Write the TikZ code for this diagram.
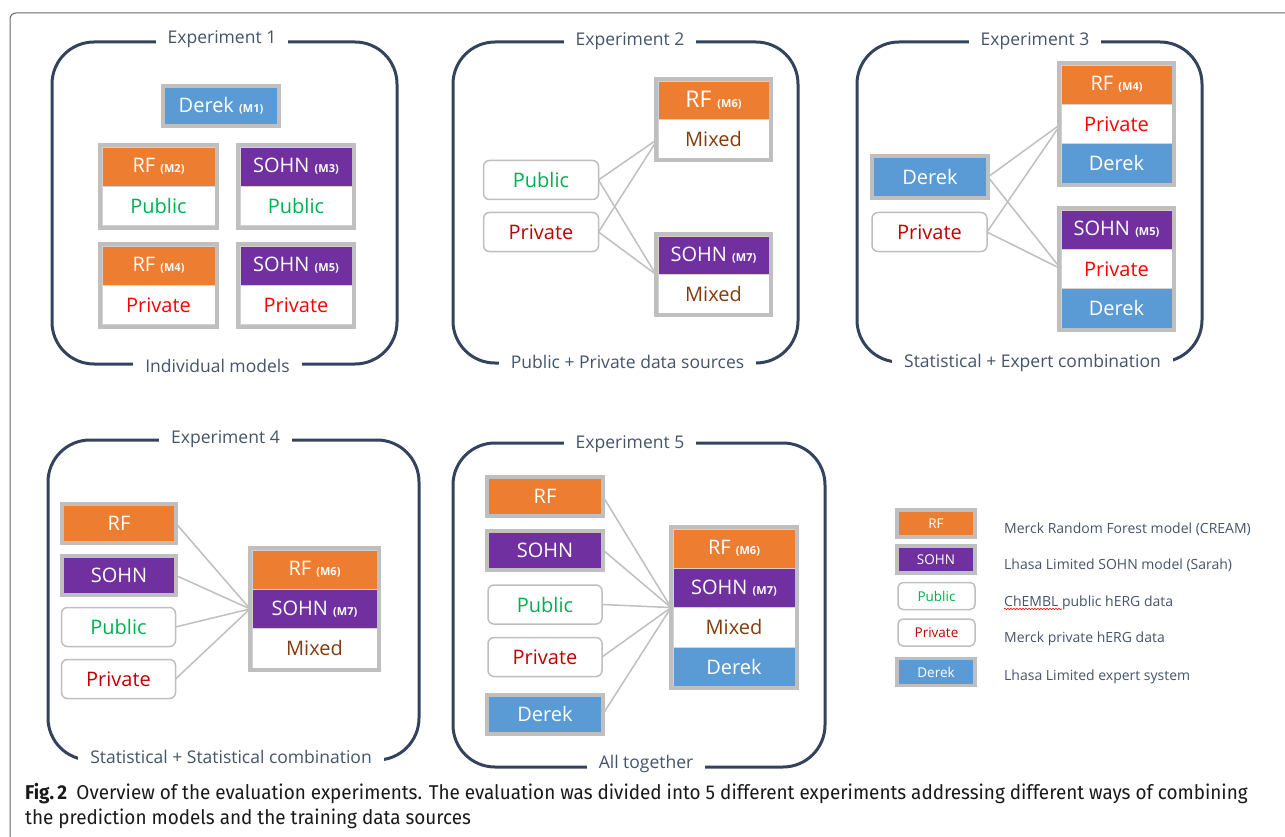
\documentclass[tikz,border=0pt]{standalone}
\usepackage{fontspec}
\setmainfont{Open Sans}
\newfontfamily\capfont{Fira Sans}
\usetikzlibrary{positioning,fit,calc,decorations.pathmorphing}

\definecolor{frameblue}{HTML}{33435D}
\definecolor{titlegray}{HTML}{44546A}
\definecolor{boxgray}{HTML}{BFBFBF}
\definecolor{rforange}{HTML}{ED7D31}
\definecolor{sohnpurple}{HTML}{7030A0}
\definecolor{derekblue}{HTML}{5B9BD5}
\definecolor{pubgreen}{HTML}{00B050}
\definecolor{privred}{HTML}{FF0000}
\definecolor{privdark}{HTML}{C00000}
\definecolor{mixbrown}{HTML}{843C0C}

\newcommand{\mtag}[1]{{\fontsize{11}{11}\selectfont\bfseries #1}}

\tikzset{
  expframe/.style={draw=frameblue, line width=3pt, rounded corners=42pt},
  exptitle/.style={anchor=base, fill=white, text=titlegray, inner xsep=12pt, inner ysep=3pt, font=\fontsize{17.5}{18}\selectfont},
  cell/.style={draw=boxgray!70, line width=0.6pt, inner sep=0pt, outer sep=0pt, minimum width=#1, minimum height=39.3pt, font=\fontsize{20}{22}\selectfont},
  rfcell/.style={cell=#1, fill=rforange, text=white},
  sohncell/.style={cell=#1, fill=sohnpurple, text=white},
  derekcell/.style={cell=#1, fill=derekblue, text=white},
  pubcell/.style={cell=#1, fill=white, text=pubgreen},
  privcell/.style={cell=#1, fill=white, text=privred},
  mixcell/.style={cell=#1, fill=white, text=mixbrown},
  grp/.style={draw=boxgray, line width=4pt, inner sep=2pt, outer sep=0pt},
  solobox/.style={draw=boxgray, line width=4pt, inner sep=0pt, outer sep=0pt, minimum width=#1, minimum height=39pt, text=white, font=\fontsize{20}{22}\selectfont},
  databox/.style={draw=boxgray, line width=1.5pt, rounded corners=6pt, fill=white, inner sep=0pt, outer sep=0pt, minimum width=#1, minimum height=39pt, font=\fontsize{20}{22}\selectfont},
  link/.style={draw=boxgray, line width=1.5pt},
  legbox/.style={draw=boxgray, line width=3.5pt, inner sep=0pt, minimum width=78pt, minimum height=27pt, text=white, font=\fontsize{13.5}{14}\selectfont},
  legdata/.style={draw=boxgray, line width=1.5pt, rounded corners=5pt, inner sep=0pt, minimum width=77pt, minimum height=27pt, font=\fontsize{13.5}{14}\selectfont},
  legtext/.style={anchor=base west, inner sep=0pt, text=titlegray, font=\fontsize{14}{15}\selectfont},
  captext/.style={anchor=base west, inner sep=0pt, xscale=0.945, text=black!90, font=\capfont\fontsize{20}{22}\selectfont},
}

\begin{document}
\begin{tikzpicture}[x=1pt, y=-1pt]
\useasboundingbox (0,0) rectangle (1285,837);
\draw[black!60, line width=1pt, rounded corners=6pt] (1285,13) -- (10,13) -- (10,837);

% Experiment 1
\draw[expframe] (52,42) rectangle (397,364);
\node[exptitle] (t1) at (222,44) {Experiment 1};
\node[exptitle] (b1) at (217.5,372) {Individual models};
\node[solobox=116pt, minimum height=40pt, fill=derekblue] (m1) at (221,106) {Derek \mtag{(M1)}};
\node[rfcell=113pt] (m2) at (158.5,166.6) {RF \mtag{(M2)}};
\node[pubcell=113pt, below=0pt of m2] (m2d) {Public};
\node[grp, fit=(m2)(m2d)] (g2) {};
\node[sohncell=112pt] (m3) at (296,166.6) {SOHN \mtag{(M3)}};
\node[pubcell=112pt, below=0pt of m3] (m3d) {Public};
\node[grp, fit=(m3)(m3d)] (g3) {};
\node[rfcell=113pt] (m4) at (158.5,265.6) {RF \mtag{(M4)}};
\node[privcell=113pt, below=0pt of m4] (m4d) {Private};
\node[grp, fit=(m4)(m4d)] (g4) {};
\node[sohncell=112pt] (m5) at (296,265.6) {SOHN \mtag{(M5)}};
\node[privcell=112pt, below=0pt of m5] (m5d) {Private};
\node[grp, fit=(m5)(m5d)] (g5) {};

% Experiment 2
\draw[expframe] (453,42) rectangle (798,363);
\node[exptitle] (t2) at (630,46) {Experiment 2};
\node[exptitle] (b2) at (627.5,368) {Public + Private data sources};
\node[rfcell=111pt, minimum height=38.5pt, font=\fontsize{23}{24}\selectfont] (e2rf) at (713.5,100.3) {RF \mtag{(M6)}};
\node[mixcell=111pt, minimum height=38.5pt, below=0pt of e2rf] (e2rfd) {Mixed};
\node[grp, fit=(e2rf)(e2rfd)] (e2g6) {};
\node[sohncell=111pt, minimum height=38.5pt] (e2sohn) at (713.5,255.3) {SOHN \mtag{(M7)}};
\node[mixcell=111pt, minimum height=38.5pt, below=0pt of e2sohn] (e2sohnd) {Mixed};
\node[grp, fit=(e2sohn)(e2sohnd)] (e2g7) {};
\node[databox=115pt, text=pubgreen] (e2pub) at (541,180) {Public};
\node[databox=115pt, text=privdark] (e2priv) at (541,232) {Private};
\draw[link] (e2pub.east) -- (e2rfd.west);
\draw[link] (e2pub.east) -- (e2g7.west);
\draw[link] (e2priv.east) -- (e2rfd.west);
\draw[link] (e2priv.east) -- (e2g7.west);

% Experiment 3
\draw[expframe] (857,42) rectangle (1202,362);
\node[exptitle] (t3) at (1035,46) {Experiment 3};
\node[exptitle] (b3) at (1032.5,367) {Statistical + Expert combination};
\node[solobox=116pt, minimum height=42pt, fill=derekblue] (e3dk) at (930,177) {Derek};
\node[databox=115pt, text=privdark] (e3priv) at (929.5,232) {Private};
\node[rfcell=111pt] (e3rf) at (1116.5,84.6) {RF \mtag{(M4)}};
\node[privcell=111pt, below=0pt of e3rf] (e3rfp) {Private};
\node[derekcell=111pt, below=0pt of e3rfp] (e3rfd) {Derek};
\node[grp, fit=(e3rf)(e3rfd)] (e3ga) {};
\node[sohncell=111pt] (e3sohn) at (1116.5,229.6) {SOHN \mtag{(M5)}};
\node[privcell=111pt, below=0pt of e3sohn] (e3sohnp) {Private};
\node[derekcell=111pt, below=0pt of e3sohnp] (e3sohnd) {Derek};
\node[grp, fit=(e3sohn)(e3sohnd)] (e3gb) {};
\draw[link] (e3dk.east) -- (e3rfp.west);
\draw[link] (e3dk.east) -- (e3sohnp.west);
\draw[link] (e3priv.east) -- (e3rfp.west);
\draw[link] (e3priv.east) -- (e3sohnp.west);

% Experiment 4
\draw[expframe] (48,440) rectangle (419,760);
\node[exptitle] (t4) at (225.5,443) {Experiment 4};
\node[exptitle] (b4) at (231,763) {Statistical + Statistical combination};
\node[solobox=114pt, fill=rforange] (e4rf) at (119,523.5) {RF};
\node[solobox=114pt, fill=sohnpurple] (e4sohn) at (119,575.5) {SOHN};
\node[databox=114pt, text=pubgreen] (e4pub) at (118.5,627) {Public};
\node[databox=114pt, text=privdark] (e4priv) at (118.5,679) {Private};
\node[rfcell=125pt] (e4crf) at (314.5,569.6) {RF \mtag{(M6)}};
\node[sohncell=125pt, below=0pt of e4crf] (e4csohn) {SOHN \mtag{(M7)}};
\node[mixcell=125pt, below=0pt of e4csohn] (e4cmix) {Mixed};
\node[grp, fit=(e4crf)(e4cmix)] (e4g) {};
\foreach \src in {e4rf,e4sohn,e4pub,e4priv}
  \draw[link] (\src.east) -- (e4g.west);

% Experiment 5
\draw[expframe] (453,443) rectangle (825,767);
\node[exptitle] (t5) at (630,448) {Experiment 5};
\node[exptitle] (b5) at (646,768) {All together};
\node[solobox=116pt, fill=rforange] (e5rf) at (545,496.5) {RF};
\node[solobox=116pt, fill=sohnpurple] (e5sohn) at (545,550) {SOHN};
\node[databox=114pt, text=pubgreen] (e5pub) at (545,604.5) {Public};
\node[databox=114pt, text=privdark] (e5priv) at (545,657) {Private};
\node[solobox=116pt, fill=derekblue] (e5dk) at (545,714) {Derek};
\node[rfcell=122pt] (e5crf) at (734,548.6) {RF \mtag{(M6)}};
\node[sohncell=122pt, below=0pt of e5crf] (e5csohn) {SOHN \mtag{(M7)}};
\node[mixcell=122pt, below=0pt of e5csohn] (e5cmix) {Mixed};
\node[derekcell=122pt, below=0pt of e5cmix] (e5cdk) {Derek};
\node[grp, fit=(e5crf)(e5cdk)] (e5g) {};
\foreach \src in {e5rf,e5sohn,e5pub,e5priv,e5dk}
  \draw[link] (\src.east) -- (e5g.west);

% legend
\node[legbox, fill=rforange] (lrf) at (936,523.5) {RF};
\node[legbox, fill=sohnpurple] (lsohn) at (936,559.5) {SOHN};
\node[legdata, text=pubgreen] (lpub) at (936.5,596) {Public};
\node[legdata, text=privdark] (lpriv) at (936.5,632.5) {Private};
\node[legbox, fill=derekblue] (ldk) at (936,672) {Derek};
\node[legtext] (txrf) at (1004,533) {Merck Random Forest model (CREAM)};
\node[legtext] (txsohn) at (1004,569) {Lhasa Limited SOHN model (Sarah)};
\node[legtext] (txpub) at (1004,606) {ChEMBL public hERG data};
\node[legtext] (txpriv) at (1004,642) {Merck private hERG data};
\node[legtext] (txdk) at (1004,680) {Lhasa Limited expert system};
\draw[red, line width=0.6pt, decorate, decoration={snake, amplitude=0.8pt, segment length=3pt}]
  ($(txpub.base west)+(0,3)$) -- ++(58,0);

% caption
\node[captext] (cap1) at (25,799)
  {\textbf{Fig.\,2}\enspace Overview of the evaluation experiments. The evaluation was divided into 5 different experiments addressing different ways of combining};
\node[captext] (cap2) at (25,824)
  {the prediction models and the training data sources};
\end{tikzpicture}
\end{document}
